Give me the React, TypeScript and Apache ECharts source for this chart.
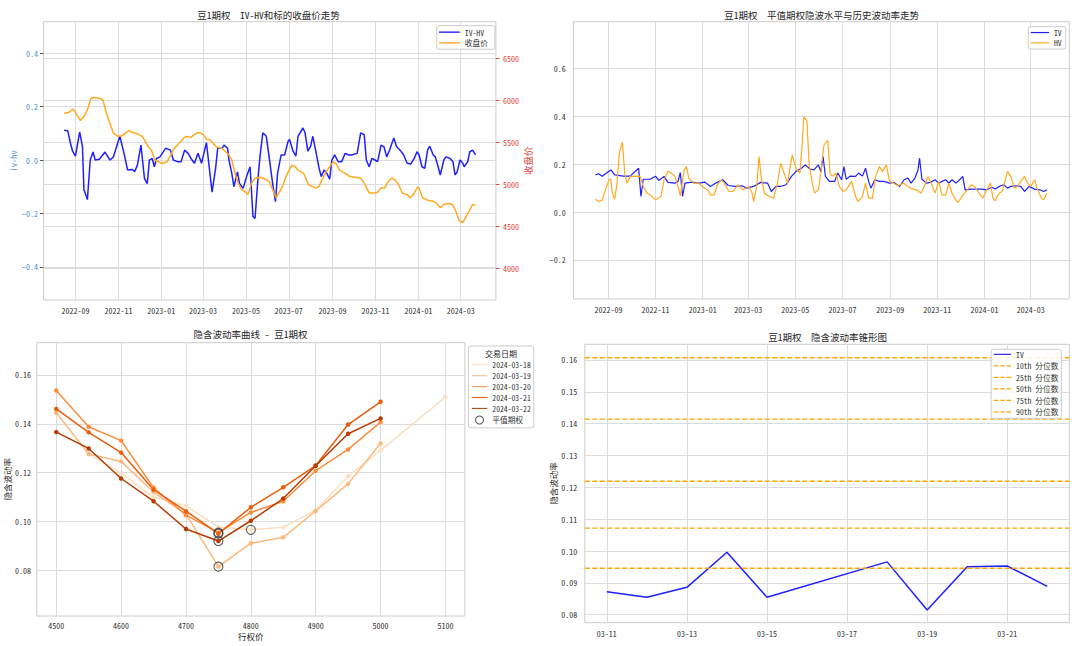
import React, { useEffect, useRef } from 'react';
import * as echarts from 'echarts';

const FONT = "'Noto Sans Mono CJK SC', 'Noto Sans CJK SC', sans-serif";

// ---------- Top-left: IV-HV and close price ----------
const IVHV: [string, number][] = [
  ['2022-08-16', 0.112], ['2022-08-21', 0.110], ['2022-08-25', 0.062], ['2022-08-28', 0.033], ['2022-09-01', 0.015],
  ['2022-09-07', 0.105], ['2022-09-11', 0.05], ['2022-09-13', -0.11], ['2022-09-18', -0.148], ['2022-09-22', 0.0],
  ['2022-09-26', 0.03], ['2022-09-29', 0.0], ['2022-10-05', 0.003], ['2022-10-13', 0.03], ['2022-10-20', 0.0],
  ['2022-10-25', 0.012], ['2022-11-03', 0.089], ['2022-11-09', 0.025], ['2022-11-14', -0.037], ['2022-11-21', -0.035],
  ['2022-11-24', -0.044], ['2022-11-28', -0.019], ['2022-12-03', 0.056], ['2022-12-08', -0.069], ['2022-12-12', -0.088],
  ['2022-12-15', 0.0], ['2022-12-19', 0.006], ['2022-12-22', -0.025], ['2022-12-25', 0.006], ['2022-12-30', 0.012],
  ['2023-01-07', 0.044], ['2023-01-14', 0.037], ['2023-01-18', 0.0], ['2023-01-24', -0.006], ['2023-01-29', -0.006],
  ['2023-02-03', 0.037], ['2023-02-08', 0.025], ['2023-02-12', 0.006], ['2023-02-17', -0.012], ['2023-02-22', 0.025],
  ['2023-02-27', -0.012], ['2023-03-06', 0.065], ['2023-03-14', -0.12], ['2023-03-19', -0.031], ['2023-03-22', 0.044],
  ['2023-03-28', 0.044], ['2023-03-31', 0.056], ['2023-04-05', 0.044], ['2023-04-07', 0.0], ['2023-04-11', -0.05],
  ['2023-04-14', -0.1], ['2023-04-19', -0.044], ['2023-04-22', -0.088], ['2023-04-27', -0.106], ['2023-05-02', -0.062],
  ['2023-05-07', -0.025], ['2023-05-11', -0.21], ['2023-05-14', -0.219], ['2023-05-18', -0.075], ['2023-05-21', 0.012],
  ['2023-05-25', 0.102], ['2023-05-30', 0.089], ['2023-06-03', 0.012], ['2023-06-08', -0.088], ['2023-06-12', -0.156],
  ['2023-06-15', -0.05], ['2023-06-20', 0.019], ['2023-06-25', 0.019], ['2023-06-30', 0.071], ['2023-07-02', 0.077],
  ['2023-07-07', 0.033], ['2023-07-11', 0.015], ['2023-07-14', 0.089], ['2023-07-21', 0.12], ['2023-07-24', 0.102],
  ['2023-07-28', 0.033], ['2023-08-01', 0.052], ['2023-08-04', 0.089], ['2023-08-08', 0.037], ['2023-08-13', -0.031],
  ['2023-08-16', -0.062], ['2023-08-20', -0.037], ['2023-08-24', -0.05], ['2023-08-28', -0.072], ['2023-08-31', 0.0],
  ['2023-09-04', 0.019], ['2023-09-09', -0.006], ['2023-09-14', -0.006], ['2023-09-19', 0.025], ['2023-09-24', 0.019],
  ['2023-09-28', 0.019], ['2023-10-06', 0.025], ['2023-10-11', 0.102], ['2023-10-16', 0.095], ['2023-10-19', 0.0],
  ['2023-10-23', -0.025], ['2023-10-27', 0.006], ['2023-10-30', 0.002], ['2023-11-04', -0.006], ['2023-11-09', 0.056],
  ['2023-11-13', 0.05], ['2023-11-17', 0.012], ['2023-11-21', 0.037], ['2023-11-27', 0.083], ['2023-12-01', 0.05],
  ['2023-12-06', 0.037], ['2023-12-11', 0.019], ['2023-12-16', -0.012], ['2023-12-21', -0.015], ['2023-12-26', 0.006],
  ['2023-12-30', 0.031], ['2024-01-02', 0.019], ['2024-01-06', -0.025], ['2024-01-10', -0.031], ['2024-01-14', 0.037],
  ['2024-01-17', 0.052], ['2024-01-22', 0.019], ['2024-01-25', 0.012], ['2024-01-29', -0.025], ['2024-02-01', -0.056],
  ['2024-02-06', 0.0], ['2024-02-09', 0.012], ['2024-02-15', 0.006], ['2024-02-19', -0.006], ['2024-02-22', -0.056],
  ['2024-02-25', -0.044], ['2024-02-29', 0.0], ['2024-03-04', -0.012], ['2024-03-06', -0.025], ['2024-03-11', -0.006],
  ['2024-03-14', 0.031], ['2024-03-18', 0.037], ['2024-03-22', 0.019],
];

const CLOSE: [string, number][] = [
  ['2022-08-16', 5845], ['2022-08-22', 5853], ['2022-08-29', 5893], ['2022-09-03', 5825], ['2022-09-08', 5758],
  ['2022-09-13', 5805], ['2022-09-18', 5885], ['2022-09-23', 6024], ['2022-09-28', 6032], ['2022-10-05', 6024],
  ['2022-10-10', 6004], ['2022-10-15', 5845], ['2022-10-20', 5726], ['2022-10-25', 5607], ['2022-10-30', 5575],
  ['2022-11-06', 5575], ['2022-11-11', 5607], ['2022-11-16', 5639], ['2022-11-21', 5615], ['2022-11-26', 5607],
  ['2022-12-01', 5587], ['2022-12-05', 5567], ['2022-12-08', 5528], ['2022-12-13', 5448], ['2022-12-18', 5402],
  ['2022-12-23', 5285], ['2022-12-28', 5266], ['2023-01-03', 5246], ['2023-01-09', 5266], ['2023-01-14', 5344],
  ['2023-01-19', 5422], ['2023-01-26', 5488], ['2023-02-03', 5559], ['2023-02-07', 5567], ['2023-02-12', 5559],
  ['2023-02-20', 5607], ['2023-02-25', 5615], ['2023-03-02', 5587], ['2023-03-06', 5536], ['2023-03-11', 5528],
  ['2023-03-16', 5480], ['2023-03-21', 5440], ['2023-03-28', 5428], ['2023-04-02', 5389], ['2023-04-07', 5347],
  ['2023-04-11', 5285], ['2023-04-15', 5148], ['2023-04-20', 5012], ['2023-04-25', 4934], ['2023-05-02', 4895],
  ['2023-05-04', 4875], ['2023-05-09', 5012], ['2023-05-14', 5070], ['2023-05-22', 5082], ['2023-05-29', 5059],
  ['2023-06-03', 5031], ['2023-06-08', 4934], ['2023-06-13', 4836], ['2023-06-17', 4895], ['2023-06-22', 4973],
  ['2023-06-27', 5090], ['2023-07-05', 5227], ['2023-07-10', 5207], ['2023-07-14', 5168], ['2023-07-22', 5129],
  ['2023-07-29', 4992], ['2023-08-03', 4973], ['2023-08-08', 4953], ['2023-08-13', 4973], ['2023-08-18', 5070],
  ['2023-08-23', 5148], ['2023-08-28', 5207], ['2023-09-02', 5266], ['2023-09-06', 5246], ['2023-09-11', 5168],
  ['2023-09-19', 5129], ['2023-09-26', 5090], ['2023-10-03', 5082], ['2023-10-11', 5070], ['2023-10-16', 5012],
  ['2023-10-23', 4895], ['2023-10-30', 4895], ['2023-11-04', 4902], ['2023-11-09', 4953], ['2023-11-14', 4953],
  ['2023-11-19', 5031], ['2023-11-24', 5070], ['2023-11-29', 5051], ['2023-12-04', 4992], ['2023-12-09', 4895],
  ['2023-12-16', 4875], ['2023-12-21', 4836], ['2023-12-26', 4895], ['2023-12-31', 4965], ['2024-01-02', 4953],
  ['2024-01-07', 4836], ['2024-01-14', 4809], ['2024-01-22', 4797], ['2024-01-27', 4770], ['2024-02-01', 4719],
  ['2024-02-06', 4758], ['2024-02-13', 4770], ['2024-02-18', 4758], ['2024-02-23', 4680], ['2024-02-28', 4563],
  ['2024-03-04', 4543], ['2024-03-08', 4602], ['2024-03-13', 4680], ['2024-03-18', 4758], ['2024-03-22', 4746],
];

// ---------- Top-right: ATM IV vs HV ----------
const IV_TS: [string, number][] = [
  ['2022-08-15', 0.155], ['2022-08-19', 0.16], ['2022-08-24', 0.15], ['2022-08-28', 0.16], ['2022-09-04', 0.176],
  ['2022-09-09', 0.155], ['2022-09-20', 0.15], ['2022-09-29', 0.15], ['2022-10-10', 0.183], ['2022-10-13', 0.065],
  ['2022-10-16', 0.137], ['2022-10-25', 0.137], ['2022-11-01', 0.15], ['2022-11-05', 0.132], ['2022-11-12', 0.149],
  ['2022-11-17', 0.124], ['2022-11-26', 0.121], ['2022-11-30', 0.128], ['2022-12-03', 0.165], ['2022-12-06', 0.065],
  ['2022-12-09', 0.121], ['2022-12-18', 0.125], ['2022-12-27', 0.121], ['2023-01-04', 0.125], ['2023-01-11', 0.107],
  ['2023-01-18', 0.121], ['2023-01-27', 0.135], ['2023-02-03', 0.111], ['2023-02-12', 0.107], ['2023-02-21', 0.11],
  ['2023-02-27', 0.1], ['2023-03-08', 0.107], ['2023-03-17', 0.124], ['2023-03-26', 0.121], ['2023-03-31', 0.086],
  ['2023-04-06', 0.107], ['2023-04-12', 0.107], ['2023-04-19', 0.114], ['2023-04-26', 0.149], ['2023-05-02', 0.17],
  ['2023-05-09', 0.183], ['2023-05-14', 0.197], ['2023-05-20', 0.18], ['2023-05-25', 0.176], ['2023-05-31', 0.197],
  ['2023-06-03', 0.169], ['2023-06-06', 0.232], ['2023-06-09', 0.149], ['2023-06-14', 0.128], ['2023-06-21', 0.128],
  ['2023-06-25', 0.163], ['2023-06-30', 0.135], ['2023-07-03', 0.19], ['2023-07-06', 0.137], ['2023-07-11', 0.15],
  ['2023-07-18', 0.149], ['2023-07-22', 0.163], ['2023-07-27', 0.15], ['2023-07-31', 0.183], ['2023-08-04', 0.128],
  ['2023-08-07', 0.1], ['2023-08-12', 0.135], ['2023-08-18', 0.128], ['2023-08-24', 0.128], ['2023-08-31', 0.121],
  ['2023-09-06', 0.124], ['2023-09-13', 0.107], ['2023-09-19', 0.135], ['2023-09-24', 0.142], ['2023-09-28', 0.121],
  ['2023-10-03', 0.142], ['2023-10-07', 0.176], ['2023-10-09', 0.225], ['2023-10-12', 0.137], ['2023-10-18', 0.121],
  ['2023-10-23', 0.124], ['2023-10-29', 0.135], ['2023-11-03', 0.121], ['2023-11-07', 0.128], ['2023-11-12', 0.135],
  ['2023-11-16', 0.121], ['2023-11-20', 0.135], ['2023-11-25', 0.121], ['2023-11-29', 0.132], ['2023-12-04', 0.149],
  ['2023-12-07', 0.093], ['2023-12-15', 0.096], ['2023-12-21', 0.096], ['2023-12-28', 0.096], ['2024-01-04', 0.093],
  ['2024-01-11', 0.104], ['2024-01-15', 0.096], ['2024-01-22', 0.11], ['2024-01-26', 0.114], ['2024-01-31', 0.1],
  ['2024-02-04', 0.107], ['2024-02-11', 0.11], ['2024-02-17', 0.107], ['2024-02-22', 0.086], ['2024-02-28', 0.107],
  ['2024-03-06', 0.096], ['2024-03-13', 0.093], ['2024-03-18', 0.086], ['2024-03-22', 0.093],
];

const HV_TS: [string, number][] = [
  ['2022-08-15', 0.054], ['2022-08-19', 0.044], ['2022-08-24', 0.051], ['2022-08-28', 0.093], ['2022-09-02', 0.137],
  ['2022-09-04', 0.137], ['2022-09-06', 0.079], ['2022-09-09', 0.054], ['2022-09-12', 0.12], ['2022-09-15', 0.246],
  ['2022-09-19', 0.292], ['2022-09-22', 0.162], ['2022-09-25', 0.12], ['2022-09-29', 0.149], ['2022-10-07', 0.15],
  ['2022-10-12', 0.149], ['2022-10-16', 0.107], ['2022-10-21', 0.079], ['2022-10-25', 0.072], ['2022-11-01', 0.051],
  ['2022-11-08', 0.065], ['2022-11-12', 0.135], ['2022-11-17', 0.17], ['2022-11-21', 0.163], ['2022-11-26', 0.149],
  ['2022-11-30', 0.107], ['2022-12-03', 0.068], ['2022-12-08', 0.176], ['2022-12-11', 0.19], ['2022-12-14', 0.142],
  ['2022-12-20', 0.121], ['2022-12-27', 0.121], ['2022-12-31', 0.107], ['2023-01-07', 0.093], ['2023-01-11', 0.072],
  ['2023-01-16', 0.072], ['2023-01-20', 0.114], ['2023-01-25', 0.135], ['2023-01-29', 0.121], ['2023-02-04', 0.086],
  ['2023-02-09', 0.086], ['2023-02-16', 0.114], ['2023-02-22', 0.093], ['2023-03-02', 0.107], ['2023-03-06', 0.079],
  ['2023-03-08', 0.044], ['2023-03-12', 0.107], ['2023-03-15', 0.232], ['2023-03-18', 0.142], ['2023-03-22', 0.079],
  ['2023-03-28', 0.065], ['2023-04-03', 0.058], ['2023-04-08', 0.121], ['2023-04-12', 0.204], ['2023-04-18', 0.149],
  ['2023-04-21', 0.121], ['2023-04-27', 0.239], ['2023-05-02', 0.183], ['2023-05-07', 0.162], ['2023-05-10', 0.287],
  ['2023-05-12', 0.397], ['2023-05-16', 0.383], ['2023-05-19', 0.197], ['2023-05-23', 0.121], ['2023-05-26', 0.079],
  ['2023-05-31', 0.093], ['2023-06-03', 0.162], ['2023-06-07', 0.278], ['2023-06-12', 0.3], ['2023-06-15', 0.162],
  ['2023-06-18', 0.149], ['2023-06-23', 0.162], ['2023-06-27', 0.107], ['2023-07-02', 0.086], ['2023-07-06', 0.093],
  ['2023-07-13', 0.128], ['2023-07-18', 0.065], ['2023-07-21', 0.044], ['2023-07-27', 0.065], ['2023-07-31', 0.121],
  ['2023-08-04', 0.058], ['2023-08-09', 0.058], ['2023-08-13', 0.149], ['2023-08-18', 0.19], ['2023-08-22', 0.169],
  ['2023-08-27', 0.197], ['2023-08-31', 0.128], ['2023-09-05', 0.121], ['2023-09-11', 0.11], ['2023-09-18', 0.121],
  ['2023-09-24', 0.107], ['2023-09-30', 0.096], ['2023-10-05', 0.093], ['2023-10-11', 0.079], ['2023-10-16', 0.114],
  ['2023-10-20', 0.149], ['2023-10-25', 0.114], ['2023-10-29', 0.079], ['2023-11-03', 0.128], ['2023-11-07', 0.072],
  ['2023-11-12', 0.072], ['2023-11-16', 0.121], ['2023-11-20', 0.079], ['2023-11-25', 0.051], ['2023-11-28', 0.04],
  ['2023-12-04', 0.072], ['2023-12-10', 0.093], ['2023-12-15', 0.114], ['2023-12-19', 0.107], ['2023-12-25', 0.079],
  ['2023-12-30', 0.058], ['2024-01-04', 0.093], ['2024-01-09', 0.121], ['2024-01-12', 0.058], ['2024-01-15', 0.047],
  ['2024-01-20', 0.079], ['2024-01-24', 0.086], ['2024-01-31', 0.17], ['2024-02-04', 0.149], ['2024-02-09', 0.1],
  ['2024-02-13', 0.107], ['2024-02-17', 0.128], ['2024-02-22', 0.149], ['2024-02-26', 0.121], ['2024-03-01', 0.107],
  ['2024-03-06', 0.135], ['2024-03-10', 0.093], ['2024-03-15', 0.058], ['2024-03-18', 0.051], ['2024-03-22', 0.079],
];

const MONTH_TICKS = ['2022-09-01', '2022-11-01', '2023-01-01', '2023-03-01', '2023-05-01', '2023-07-01',
  '2023-09-01', '2023-11-01', '2024-01-01', '2024-03-01'];

// ---------- Bottom-left: smile ----------
const STRIKES = [4500, 4550, 4600, 4650, 4700, 4750, 4800, 4850, 4900, 4950, 5000, 5100];
const SMILE_DATES = ['2024-03-18', '2024-03-19', '2024-03-20', '2024-03-21', '2024-03-22'];
const SMILE_0318 = [null, 0.1276, 0.1199, 0.110, 0.1064, 0.0977, 0.0966, 0.0976, 0.1046, 0.1185, 0.1291, 0.1509];
const SMILE_0319 = [0.1445, 0.1276, 0.1246, 0.112, 0.103, 0.0815, 0.0911, 0.0935, 0.1043, 0.1154, 0.1320, null];
const SMILE_0320 = [0.1536, 0.1388, 0.1331, 0.1138, 0.1026, 0.0954, 0.1037, 0.1083, 0.1208, 0.1295, 0.1407, null];
const SMILE_0321 = [0.1461, 0.1365, 0.1282, 0.1130, 0.1042, 0.0950, 0.1058, 0.1140, 0.1229, 0.1397, 0.1490, null];
const SMILE_0322 = [0.1366, 0.1299, 0.1176, 0.1083, 0.0969, 0.0920, 0.1003, 0.1094, 0.1228, 0.1359, 0.1422, null];
const SMILE_VALUES = [SMILE_0318, SMILE_0319, SMILE_0320, SMILE_0321, SMILE_0322];
const SMILE_COLORS = ['#fedfbf', '#fdb97d', '#fd8d3c', '#e95e0d', '#b73c02'];
const ATM_POINTS: [number, number][] = [[4800, 0.0966], [4750, 0.0815], [4750, 0.0954], [4750, 0.0950], [4750, 0.0920]];
const STRIKE_TICKS = [4500, 4600, 4700, 4800, 4900, 5000, 5100];
const SMILE_Y_TICKS = [0.08, 0.10, 0.12, 0.14, 0.16];

// ---------- Bottom-right: cone ----------
const CONE_DATES = ['2024-03-11', '2024-03-12', '2024-03-13', '2024-03-14', '2024-03-15',
  '2024-03-18', '2024-03-19', '2024-03-20', '2024-03-21', '2024-03-22'];
const CONE_IV = [0.0872, 0.0855, 0.0886, 0.0996, 0.0855, 0.0966, 0.0815, 0.0951, 0.0953, 0.0889];
const QUANTILE_NAMES = ['10th 分位数', '25th 分位数', '50th 分位数', '75th 分位数', '90th 分位数'];
const QUANTILE_VALUES = [0.0946, 0.1072, 0.1219, 0.1414, 0.1607];
const CONE_DAY_TICKS = ['2024-03-11', '2024-03-13', '2024-03-15', '2024-03-17', '2024-03-19', '2024-03-21'];
const CONE_Y_TICKS = [0.08, 0.09, 0.10, 0.11, 0.12, 0.13, 0.14, 0.15, 0.16];

const BLUE = '#1f1fff';
const ORANGE = '#ffaa1f';
const DAY = 86400000;
const LINE_ICON = 'path://M0,0H30V2H0Z';
const DASH_ICON = 'path://M0,0H7V2H0Z M10,0H17V2H10Z M20,0H27V2H20Z';

const ts = (s: string) => {
  const [y, m, d] = s.split('-').map(Number);
  return new Date(y, m - 1, d).getTime();
};
const pad = (n: number) => String(n).padStart(2, '0');
const fmtYM = (v: number) => { const d = new Date(v); return `${d.getFullYear()}-${pad(d.getMonth() + 1)}`; };
const fmtMD = (v: number) => { const d = new Date(v); return `${pad(d.getMonth() + 1)}-${pad(d.getDate())}`; };
const fmtNum = (digits: number) => (v: number) => v.toFixed(digits).replace('-', '\u2212');
const toTs = (rows: [string, number][]) => rows.map(([d, v]) => [ts(d), v]);

function buildOption() {
  const tickText = { color: '#333', fontSize: 8, fontFamily: FONT };
  const split = { show: true, lineStyle: { color: '#dcdcdc', width: 1 } };
  const gridBase = { show: true, borderColor: '#cccccc', borderWidth: 1, containLabel: false, outerBoundsMode: 'none' };
  const monthTicks = MONTH_TICKS.map(ts);
  const longMin = ts('2022-09-01') - 45.5 * DAY;
  const longMax = ts('2022-09-01') + 597 * DAY;
  const coneMin = ts('2024-03-11') - 0.55 * DAY;
  const coneMax = ts('2024-03-22') + 0.55 * DAY;
  const coneTicks = CONE_DAY_TICKS.map(ts);

  const dateAxis = (gridIndex: number) => ({
    type: 'value', gridIndex, min: longMin, max: longMax, scale: true,
    axisLine: { show: false },
    axisTick: { show: false, customValues: monthTicks },
    axisLabel: { ...tickText, customValues: monthTicks, formatter: fmtYM, margin: 6, hideOverlap: false },
    splitLine: split,
  });

  const legendText = { color: '#333', fontSize: 7.7, fontFamily: FONT };

  const series: any[] = [
    {
      type: 'line', name: 'IV-HV', xAxisIndex: 0, yAxisIndex: 0, data: toTs(IVHV), symbol: 'none',
      lineStyle: { color: BLUE, width: 1.5 }, itemStyle: { color: BLUE }, color: BLUE,
    },
    {
      type: 'line', name: '收盘价', xAxisIndex: 0, yAxisIndex: 1, data: toTs(CLOSE), symbol: 'none',
      lineStyle: { color: ORANGE, width: 1.5 }, itemStyle: { color: ORANGE }, color: ORANGE,
    },
    {
      type: 'line', name: 'IV', xAxisIndex: 1, yAxisIndex: 2, data: toTs(IV_TS), symbol: 'none',
      lineStyle: { color: BLUE, width: 1.2 }, itemStyle: { color: BLUE }, color: BLUE,
    },
    {
      type: 'line', name: 'HV', xAxisIndex: 1, yAxisIndex: 2, data: toTs(HV_TS), symbol: 'none',
      lineStyle: { color: ORANGE, width: 1.2 }, itemStyle: { color: ORANGE }, color: ORANGE,
    },
  ];

  SMILE_DATES.forEach((name, i) => {
    const vals = SMILE_VALUES[i];
    const data = STRIKES.map((k, j) => [k, vals[j]]).filter((p) => p[1] !== null);
    series.push({
      type: 'line', name, xAxisIndex: 2, yAxisIndex: 3, data,
      symbol: 'circle', symbolSize: 4.5, showSymbol: true,
      lineStyle: { color: SMILE_COLORS[i], width: 1.5 },
      itemStyle: { color: SMILE_COLORS[i] }, color: SMILE_COLORS[i],
    });
  });
  series.push({
    type: 'scatter', name: '平值期权', xAxisIndex: 2, yAxisIndex: 3, data: ATM_POINTS,
    symbol: 'circle', symbolSize: 9, z: 10,
    itemStyle: { color: 'rgba(0,0,0,0)', borderColor: '#333', borderWidth: 1.1 },
  });

  series.push({
    type: 'line', name: 'IV', xAxisIndex: 3, yAxisIndex: 4,
    data: CONE_DATES.map((d, i) => [ts(d), CONE_IV[i]]), symbol: 'none',
    lineStyle: { color: BLUE, width: 1.5 }, itemStyle: { color: BLUE }, color: BLUE,
  });
  QUANTILE_NAMES.forEach((name, i) => {
    series.push({
      type: 'line', name, xAxisIndex: 3, yAxisIndex: 4, symbol: 'none',
      data: [[coneMin, QUANTILE_VALUES[i]], [coneMax, QUANTILE_VALUES[i]]],
      color: '#ffa500', itemStyle: { color: '#ffa500' },
      lineStyle: { color: '#ffa500', type: [5, 2.5], width: 1.4 },
    });
  });

  return {
    animation: false,
    backgroundColor: '#ffffff',
    textStyle: { fontFamily: FONT },
    grid: [
      { ...gridBase, left: 43.4, top: 21.7, width: 452.5, height: 278.3 },
      { ...gridBase, left: 573.4, top: 21.7, width: 495.9, height: 277.3 },
      { ...gridBase, left: 36.8, top: 342.7, width: 428.1, height: 273.3 },
      { ...gridBase, left: 584.8, top: 344.3, width: 484.5, height: 278.4 },
    ],
    xAxis: [
      dateAxis(0),
      dateAxis(1),
      {
        type: 'value', gridIndex: 2, min: 4470, max: 5130,
        name: '行权价', nameLocation: 'middle', nameGap: 15.8,
        nameTextStyle: { color: '#262626', fontSize: 8.5, fontFamily: FONT },
        axisLine: { show: false },
        axisTick: { show: false, customValues: STRIKE_TICKS },
        axisLabel: { ...tickText, customValues: STRIKE_TICKS, formatter: (v: number) => String(v), margin: 5.7 },
        splitLine: split,
      },
      {
        type: 'value', gridIndex: 3, min: coneMin, max: coneMax, scale: true,
        axisLine: { show: false },
        axisTick: { show: false, customValues: coneTicks },
        axisLabel: { ...tickText, customValues: coneTicks, formatter: fmtMD, margin: 6.6, hideOverlap: false },
        splitLine: split,
      },
    ],
    yAxis: [
      {
        type: 'value', gridIndex: 0, min: -0.524, max: 0.518,
        name: 'iv-hv', nameLocation: 'middle', nameGap: 25.6, nameRotate: 90,
        nameTextStyle: { color: '#4a90d0', fontSize: 8.5, fontFamily: FONT },
        axisLine: { show: false },
        axisTick: { show: true, length: 3.5, lineStyle: { color: '#555' }, customValues: [-0.4, -0.2, 0, 0.2, 0.4] },
        axisLabel: { ...tickText, color: '#4a90d0', customValues: [-0.4, -0.2, 0, 0.2, 0.4], formatter: fmtNum(1), margin: 5.5 },
        splitLine: split,
      },
      {
        type: 'value', gridIndex: 0, position: 'right', min: 3619, max: 6936,
        name: '收盘价', nameLocation: 'middle', nameGap: 25.5, nameRotate: 90,
        nameTextStyle: { color: '#e0403a', fontSize: 9.5, fontFamily: FONT },
        axisLine: { show: false },
        axisTick: { show: true, length: 3.5, lineStyle: { color: '#e0403a' }, customValues: [4000, 4500, 5000, 5500, 6000, 6500] },
        axisLabel: { ...tickText, color: '#e0403a', customValues: [4000, 4500, 5000, 5500, 6000, 6500], formatter: (v: number) => String(v), margin: 7 },
        splitLine: split,
      },
      {
        type: 'value', gridIndex: 1, min: -0.363, max: 0.795,
        axisLine: { show: false },
        axisTick: { show: false, customValues: [-0.2, 0, 0.2, 0.4, 0.6] },
        axisLabel: { ...tickText, customValues: [-0.2, 0, 0.2, 0.4, 0.6], formatter: fmtNum(1), margin: 7.6 },
        splitLine: split,
      },
      {
        type: 'value', gridIndex: 2, min: 0.0613, max: 0.1732,
        name: '隐含波动率', nameLocation: 'middle', nameGap: 24.2, nameRotate: 90,
        nameTextStyle: { color: '#262626', fontSize: 8.5, fontFamily: FONT },
        axisLine: { show: false },
        axisTick: { show: false, customValues: SMILE_Y_TICKS },
        axisLabel: { ...tickText, customValues: SMILE_Y_TICKS, formatter: fmtNum(2), margin: 5.8 },
        splitLine: split,
      },
      {
        type: 'value', gridIndex: 3, min: 0.0775, max: 0.1649,
        name: '隐含波动率', nameLocation: 'middle', nameGap: 27, nameRotate: 90,
        nameTextStyle: { color: '#262626', fontSize: 8.5, fontFamily: FONT },
        axisLine: { show: false },
        axisTick: { show: false, customValues: CONE_Y_TICKS },
        axisLabel: { ...tickText, customValues: CONE_Y_TICKS, formatter: fmtNum(2), margin: 7.6 },
        splitLine: split,
      },
    ],
    legend: [
      {
        data: ['IV-HV', '收盘价'], orient: 'vertical', left: 436.7, top: 25.7,
        itemWidth: 20.8, itemHeight: 8, itemGap: 3, itemTextGap: 3.4, padding: [2.6, 7, 2.6, 2.3],
        borderColor: '#cccccc', borderWidth: 1, borderRadius: 2, backgroundColor: 'rgba(255,255,255,0.85)',
        icon: LINE_ICON, selectedMode: false, textStyle: legendText,
      },
      {
        data: ['IV', 'HV'], orient: 'vertical', left: 1028.3, top: 26.7,
        itemWidth: 18.2, itemHeight: 8, itemGap: 2.6, itemTextGap: 5.9, padding: [2, 4, 2.4, 2.5],
        borderColor: '#cccccc', borderWidth: 1, borderRadius: 2, backgroundColor: 'rgba(255,255,255,0.85)',
        icon: LINE_ICON, selectedMode: false, textStyle: legendText,
      },
      {
        data: [
          ...SMILE_DATES.map((n) => ({ name: n, icon: LINE_ICON })),
          { name: '平值期权', icon: 'circle', itemStyle: { color: '#ffffff', borderColor: '#333', borderWidth: 1.1 } },
        ],
        orient: 'vertical', left: 468.4, top: 346,
        itemWidth: 15.5, itemHeight: 8, itemGap: 3.2, itemTextGap: 6, padding: [15, 3, 3.3, 3.4],
        borderColor: '#cccccc', borderWidth: 1, borderRadius: 2, backgroundColor: 'rgba(255,255,255,0.85)',
        selectedMode: false, textStyle: legendText,
      },
      {
        data: [
          { name: 'IV', icon: LINE_ICON },
          ...QUANTILE_NAMES.map((n) => ({ name: n, icon: DASH_ICON })),
        ],
        orient: 'vertical', left: 991.1, top: 349.3,
        itemWidth: 17.2, itemHeight: 8, itemGap: 3.8, itemTextGap: 7.6, padding: [1.2, 3, 2.7, 2.8],
        borderColor: '#cccccc', borderWidth: 1, borderRadius: 2, backgroundColor: 'rgba(255,255,255,0.85)',
        selectedMode: false, textStyle: legendText,
      },
    ],
    graphic: [
      { type: 'text', x: 268.6, y: 14.7, style: { text: '豆1期权  IV-HV和标的收盘价走势', font: `9.5px ${FONT}`, fill: '#262626', textAlign: 'center', textVerticalAlign: 'middle' } },
      { type: 'text', x: 821.7, y: 14.7, style: { text: '豆1期权  平值期权隐波水平与历史波动率走势', font: `9.5px ${FONT}`, fill: '#262626', textAlign: 'center', textVerticalAlign: 'middle' } },
      { type: 'text', x: 250.4, y: 334, style: { text: '隐含波动率曲线 - 豆1期权', font: `9.5px ${FONT}`, fill: '#262626', textAlign: 'center', textVerticalAlign: 'middle' } },
      { type: 'text', x: 827.6, y: 336.7, style: { text: '豆1期权  隐含波动率锥形图', font: `9.5px ${FONT}`, fill: '#262626', textAlign: 'center', textVerticalAlign: 'middle' } },
      { type: 'text', x: 501, y: 353.3, z: 100, style: { text: '交易日期', font: `8px ${FONT}`, fill: '#262626', textAlign: 'center', textVerticalAlign: 'middle' } },
    ],
    series,
  };
}

export default function App() {
  const ref = useRef<HTMLDivElement>(null);
  useEffect(() => {
    if (!ref.current) return;
    const chart = echarts.init(ref.current, null, { renderer: 'svg' });
    chart.setOption(buildOption() as any);
    return () => chart.dispose();
  }, []);
  return (
    <div
      ref={ref}
      style={{ position: 'absolute', left: 0, top: 0, width: 1080, height: 646, background: '#ffffff' }}
    />
  );
}
